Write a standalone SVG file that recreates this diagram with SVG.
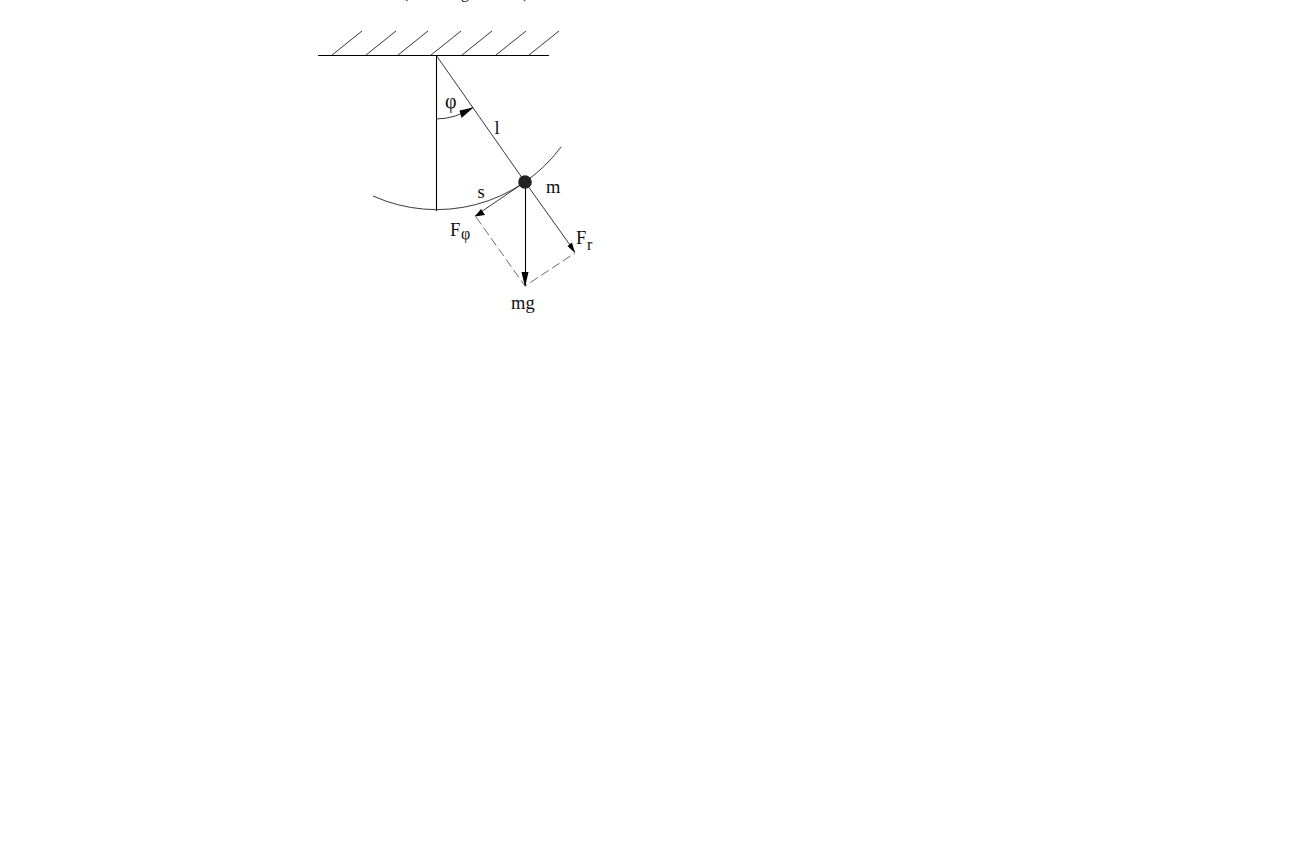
<svg xmlns="http://www.w3.org/2000/svg" width="1296" height="864" viewBox="0 0 1296 864">
<style>
.l{fill:none;stroke:#000;stroke-width:1.1}
.t{fill:none;stroke:#222;stroke-width:.9}
.d{fill:none;stroke:#444;stroke-width:.8;stroke-dasharray:9 4}
.h{fill:#000;stroke:none}
text{font-family:"Liberation Serif","Times New Roman",serif;fill:#111;font-size:18.5px}
.s{font-size:16px}
.p{font-size:20px}
</style>
<rect width="1296" height="864" fill="#fff"/>
<g id="connectors">
<path class="l" d="M318 55.500H549"/>
<path class="t" d="M332 55L362 31M366 55L396 31M398 55L428 31M431 55L461 31M462 55L492 31M496 55L526 31M529 55L559 31"/>
<path class="l" d="M436.500 55V211"/>
<path class="t" d="M436 55L525 182"/>
<path class="t" d="M373 196A155 155 0 0 0 561 147"/>
<path class="t" d="M436 119A64 64 0 0 0 473 107"/>
<polygon class="h" points="473.500,107.500 459.500,110.500 461.500,118"/>
<path class="t" d="M525 182L475 216"/>
<polygon class="h" points="475,216.500 481,209 485,215"/>
<path class="l" d="M525.500 182V286"/>
<polygon class="h" points="525,287 521.500,272 528.500,272"/>
<path class="t" d="M525 182L575 252"/>
<polygon class="h" points="575,253 567.500,246 572,242.500"/>
<path class="d" d="M476 217L525 286L575 253"/>
</g>
<g id="mass"><circle cx="525" cy="182" r="6.800" fill="#222"/></g>
<g id="label-top"><text class="s" x="403" y="-2">(</text><text class="s" x="461" y="-2">g</text><text class="s" x="523" y="-2">)</text></g>
<g id="label-phi"><text class="p" x="445" y="108">φ</text></g>
<g id="label-l"><text x="494.500" y="134">l</text></g>
<g id="label-s"><text x="477.500" y="198">s</text></g>
<g id="label-m"><text x="546" y="192.500">m</text></g>
<g id="label-Fphi"><text x="450" y="236">F</text><text class="s" x="461" y="239">φ</text></g>
<g id="label-Fr"><text x="576" y="244">F</text><text class="s" x="587" y="249.500">r</text></g>
<g id="label-mg"><text x="511" y="308.500">mg</text></g>
</svg>
